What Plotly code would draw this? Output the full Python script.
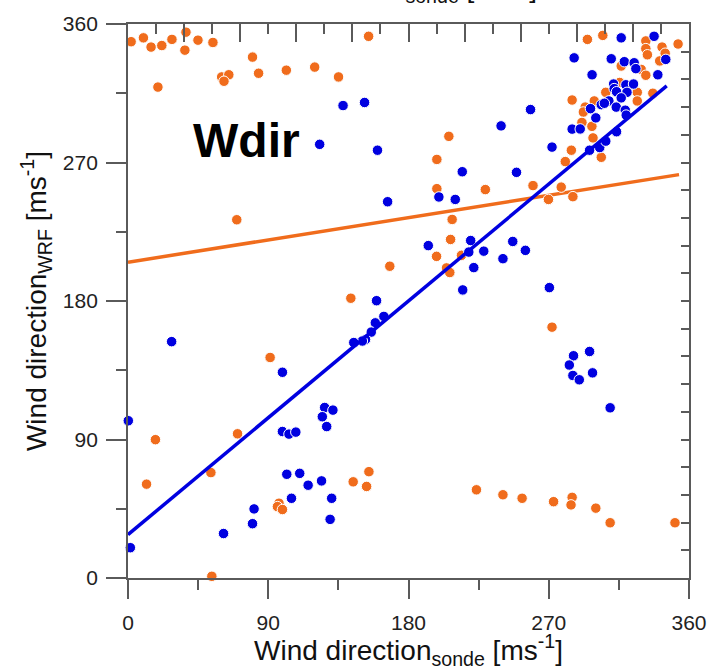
import plotly.graph_objects as go

# ---- data ----
orange_x = [2.0, 9.9, 14.8, 21.7, 28.2, 37.2, 36.5, 44.9, 54.5, 19.2, 79.9, 60.1, 64.7, 61.6, 83.8,
            101.6, 119.8, 135.1, 154.4, 294.8, 304.7, 332.3, 342.7, 353.0, 332.3, 333.3, 341.2, 344.7,
            316.5, 329.3, 332.3, 315.5, 306.6, 326.8, 326.8, 336.8, 299.2, 293.4, 292.2, 285.0, 291.3,
            297.7, 298.4, 284.5, 280.6, 303.7, 205.9, 198.2, 198.2, 229.3, 259.9, 278.0, 285.5, 269.8,
            69.8, 168.0, 143.0, 91.2, 208.0, 207.0, 198.0, 214.0, 204.4, 206.5, 272.1, 17.6, 11.9,
            70.3, 53.2, 53.8, 96.9, 95.9, 99.1, 144.5, 154.6, 153.1, 223.6, 240.6, 252.9, 273.1,
            285.0, 284.3, 300.2, 309.4, 351.0]
orange_y = [348.5, 351.0, 345.0, 346.0, 350.0, 354.7, 343.0, 349.5, 348.0, 319.0, 338.5, 325.6, 327.0,
            322.8, 328.0, 330.0, 332.0, 325.6, 352.0, 350.0, 352.6, 349.0, 345.0, 347.0, 344.0, 340.0,
            336.0, 341.0, 332.7, 330.5, 326.7, 322.0, 315.6, 315.6, 310.0, 315.0, 310.0, 306.0, 302.8,
            310.6, 296.0, 293.5, 286.0, 278.0, 270.6, 273.4, 287.0, 272.0, 253.0, 252.4, 255.0, 254.0,
            247.8, 246.0, 232.8, 202.6, 181.8, 143.3, 233.0, 220.0, 209.0, 209.7, 201.5, 198.5, 163.0,
            89.9, 61.0, 93.7, 68.5, 1.1, 48.6, 46.4, 44.5, 62.5, 69.1, 59.5, 57.3, 54.1, 51.8, 49.6,
            52.4, 47.5, 45.4, 35.9, 35.9]

blue_x = [138.0, 151.8, 123.0, 160.1, 166.6, 316.5, 337.6, 286.3, 310.1, 318.5, 324.8, 325.9, 345.1,
          340.0, 297.8, 311.6, 312.0, 313.5, 319.5, 324.4, 320.2, 316.5, 308.6, 303.7, 305.7, 296.8,
          313.3, 319.1, 319.7, 300.2, 258.3, 239.4, 285.0, 290.2, 313.5, 272.1, 296.2, 302.7, 306.6,
          214.5, 249.3, 199.5, 210.0, 28.0, 99.1, 159.5, 164.2, 158.7, 156.1, 152.4, 150.4, 144.9,
          192.7, 219.9, 218.7, 228.3, 221.9, 214.8, 240.6, 246.9, 255.0, 270.4, 296.2, 285.9, 283.2,
          285.5, 289.6, 298.1, 0.2, 1.5, 99.1, 103.3, 107.7, 126.2, 131.5, 124.7, 127.5, 101.9,
          110.2, 115.6, 124.2, 104.9, 130.7, 129.7, 80.9, 79.9, 61.3, 309.4]
blue_y = [307.0, 309.0, 281.8, 278.0, 244.5, 351.0, 352.0, 338.0, 337.4, 335.5, 334.8, 331.0, 337.0,
          327.0, 327.0, 321.0, 318.0, 316.0, 320.5, 321.0, 315.6, 312.0, 310.0, 307.6, 308.5, 305.0,
          306.0, 304.0, 300.8, 299.0, 304.4, 293.8, 291.7, 291.8, 290.0, 280.0, 278.0, 279.7, 283.9,
          264.0, 263.6, 247.6, 246.0, 153.6, 133.7, 180.2, 170.0, 165.8, 159.8, 155.0, 154.0, 153.0,
          216.0, 219.3, 211.8, 212.4, 201.7, 187.2, 207.5, 218.7, 212.9, 188.7, 147.2, 144.4, 138.4,
          131.6, 128.8, 133.3, 102.2, 19.7, 95.2, 93.5, 94.8, 110.8, 109.1, 104.8, 98.4, 67.4,
          68.0, 60.3, 63.1, 51.8, 51.8, 38.1, 44.9, 35.3, 28.9, 110.6]

# fitted lines (intercept, slope, x-extent)
blue_fit = {"intercept": 28.2, "slope": 0.8435, "x": [0, 345.7]}
orange_fit = {"intercept": 205.2, "slope": 0.161, "x": [0, 353.6]}

x_ticks = [0, 90, 180, 270, 360]
y_ticks = [0, 90, 180, 270, 360]
x_title = "Wind direction<sub>sonde</sub> [ms<sup>-1</sup>]"
y_title = "Wind direction<sub>WRF</sub> [ms<sup>-1</sup>]"
panel_label = "Wdir"

BLUE = "#0000e0"
ORANGE = "#f06c1c"
AX = "#5a5a5a"
FONT = "Liberation Sans, Arial, sans-serif"

fig = go.Figure()

def fit_y(f):
    return [f["intercept"] + f["slope"] * xv for xv in f["x"]]

fig.add_trace(go.Scatter(x=orange_fit["x"], y=fit_y(orange_fit), mode="lines",
                         line=dict(color=ORANGE, width=3.5), showlegend=False, hoverinfo="skip"))
fig.add_trace(go.Scatter(x=orange_x, y=orange_y, mode="markers",
                         marker=dict(color=ORANGE, size=10.5, line=dict(color="white", width=1)),
                         showlegend=False, cliponaxis=False))
fig.add_trace(go.Scatter(x=blue_x, y=blue_y, mode="markers",
                         marker=dict(color=BLUE, size=10.5, line=dict(color="white", width=1)),
                         showlegend=False, cliponaxis=False))
fig.add_trace(go.Scatter(x=blue_fit["x"], y=fit_y(blue_fit), mode="lines",
                         line=dict(color=BLUE, width=3.5), showlegend=False, hoverinfo="skip"))
# invisible trace to activate the top/right mirror axes
fig.add_trace(go.Scatter(x=[0], y=[0], xaxis="x2", yaxis="y2", mode="markers",
                         marker=dict(opacity=0), showlegend=False, hoverinfo="skip"))

tickfont = dict(family=FONT, size=21, color="#222222")
titlefont = dict(family=FONT, size=28, color="#111111")

fig.update_layout(
    width=720, height=670,
    margin=dict(l=128, r=31, t=20, b=89),
    paper_bgcolor="white", plot_bgcolor="white",
    xaxis=dict(range=[0, 360], tickmode="array", tickvals=x_ticks, ticktext=[str(v) for v in x_ticks],
               ticks="outside", ticklen=19, tickwidth=1.5, tickcolor=AX,
               minor=dict(tickvals=[45, 135, 225, 315], ticks="outside", ticklen=10, tickwidth=1.5, tickcolor=AX),
               showline=True, linecolor=AX, linewidth=1.8, showgrid=False, zeroline=False,
               tickfont=tickfont, ticklabelstandoff=6,
               title=dict(text=x_title, font=titlefont, standoff=4)),
    yaxis=dict(range=[0, 360], tickmode="array", tickvals=y_ticks, ticktext=[str(v) for v in y_ticks],
               ticks="outside", ticklen=20, tickwidth=1.5, tickcolor=AX,
               minor=dict(tickvals=[45, 135, 225, 315], ticks="outside", ticklen=10, tickwidth=1.5, tickcolor=AX),
               showline=True, linecolor=AX, linewidth=1.8, showgrid=False, zeroline=False,
               tickfont=tickfont, ticklabelstandoff=4,
               title=dict(text=y_title, font=titlefont, standoff=8)),
    xaxis2=dict(range=[0, 360], overlaying="x", side="top", anchor="y2",
                tickmode="array", tickvals=list(range(0, 361, 36)),
                ticks="inside", ticklen=18, tickwidth=1.5, tickcolor=AX,
                minor=dict(tickvals=list(range(18, 361, 36)), ticks="inside", ticklen=10, tickwidth=1.5, tickcolor=AX),
                showticklabels=False, showline=True, linecolor=AX, linewidth=1.8,
                showgrid=False, zeroline=False),
    yaxis2=dict(range=[0, 360], overlaying="y", side="right", anchor="x2",
                tickmode="array", tickvals=[0, 360],
                ticks="inside", ticklen=18, tickwidth=1.5, tickcolor=AX,
                minor=dict(tickvals=list(range(18, 360, 18)), ticks="inside", ticklen=8, tickwidth=1.5, tickcolor=AX),
                showticklabels=False, showline=True, linecolor=AX, linewidth=1.8,
                showgrid=False, zeroline=False),
    annotations=[
        dict(text="<b>" + panel_label + "</b>", x=75.8, y=284, xref="x", yref="y",
             showarrow=False, font=dict(family=FONT, size=48, color="black"),
             xanchor="center", yanchor="middle"),
        dict(text=x_title, x=0.454, y=1.027, xref="paper", yref="paper",
             showarrow=False, font=titlefont, xanchor="center", yanchor="bottom"),
    ],
)

fig.write_html("out.html")
